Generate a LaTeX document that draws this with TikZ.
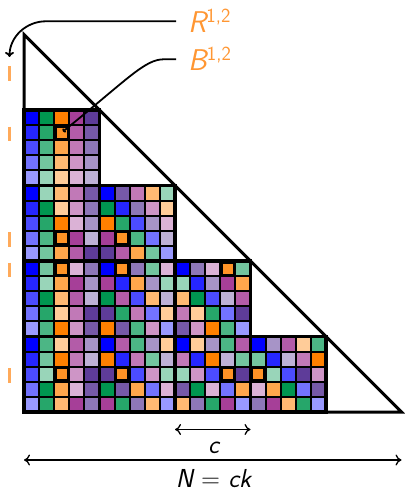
\documentclass[tikz,border=0pt]{standalone}
\usepackage{fontspec}
\usetikzlibrary{arrows.meta}
\definecolor{fam0}{RGB}{0,0,255}
\definecolor{fam1}{RGB}{0,150,80}
\definecolor{fam2}{RGB}{255,128,0}
\definecolor{fam3}{RGB}{166,63,152}
\definecolor{fam4}{RGB}{94,60,153}
\definecolor{labcol}{RGB}{255,150,50}
\definecolor{tickcol}{RGB}{255,170,90}
\begin{document}
\begin{tikzpicture}[x=1pt,y=-1pt,
  outline/.style={line width=3pt,line join=miter},
  blockline/.style={line width=3.2pt},
  tickmark/.style={draw=tickcol,line width=2.5pt},
  biglab/.style={text=labcol,anchor=base west,inner sep=0pt,font=\sffamily\fontsize{30}{36}\selectfont},
  botlab/.style={anchor=base,inner sep=0pt,font=\sffamily\fontsize{26}{30}\selectfont},
  pointer/.style={line width=1.8pt},
  dimarrow/.style={line width=1.3pt,{To[length=6pt,width=11pt]}-{To[length=6pt,width=11pt]}}]
\useasboundingbox (0,0) rectangle (404,492);
\def\s{15.1}
\def\ox{24}
\def\oy{34.5}
% cells
\foreach \I in {1,...,4}{
  \pgfmathtruncatemacro\Jmax{\I-1}
  \foreach \J in {0,...,\Jmax}{
    \foreach \i in {0,...,4}{
      \foreach \j in {0,...,4}{
        \pgfmathtruncatemacro\d{\I-\J}
        \pgfmathtruncatemacro\inv{(\d==1)*1+(\d==2)*3+(\d==3)*2+(\d==4)*4}
        \ifnum\J=0
          \pgfmathtruncatemacro\xx{\j}
          \pgfmathtruncatemacro\yy{\i-(\I-1)*\j}
        \else
          \pgfmathtruncatemacro\xx{(\i-\j)*\inv}
          \pgfmathtruncatemacro\yy{\j-(\J-1)*\xx}
        \fi
        \pgfmathtruncatemacro\fam{mod(\xx+100,5)}
        \pgfmathtruncatemacro\sh{mod(\yy+100,5)}
        \pgfmathtruncatemacro\pct{100-15*\sh}
        \pgfmathsetmacro\cx{\ox+(5*\J+\j)*\s}
        \pgfmathsetmacro\cy{\oy+(5*\I+\i)*\s}
        \fill[fam\fam!\pct!white,draw=black,line width=2pt] (\cx,\cy) rectangle ++(\s,\s);
        \ifnum\fam=2 \ifnum\sh=1
          \draw[line width=2.6pt] (\cx+1.3,\cy+1.3) rectangle ++(\s-2.6,\s-2.6);
        \fi\fi
      }
    }
    \pgfmathsetmacro\bx{\ox+5*\J*\s}
    \pgfmathsetmacro\by{\oy+5*\I*\s}
    \draw[blockline] (\bx,\by) rectangle ++(5*\s,5*\s);
  }
}
% outlines
\draw[outline] (24,34.5) -- (24,412) -- (401.5,412) -- cycle;
\draw[outline] (24,110) -| (99.5,185.5) -| (175,261) -| (250.5,336.5) -| (326,412);
% ticks
\foreach \r in {2,6,13,15,22}
  \draw[tickmark] (9.5,{\oy+\r*\s+1.5}) -- (9.5,{\oy+(\r+1)*\s+1});
% labels and pointers
\node[biglab] (R) at (188,33) {\itshape R\raisebox{10pt}{\fontsize{20}{24}\selectfont\upshape 1,2}};
\node[biglab] (B) at (188,71) {\itshape B\raisebox{10pt}{\fontsize{20}{24}\selectfont\upshape 1,2}};
\coordinate (tipR) at (9.5,57);
\coordinate (cellB) at (63,131.5);
\draw[pointer,-{To[length=5pt,width=9pt]}] ([xshift=-12pt]R.west) -- ++(-130,0) to[out=180,in=90] (tipR);
\draw[pointer,-{To[length=2.5pt,width=5pt]}] ([xshift=-12pt]B.west) -- ++(-12,0) .. controls +(-19,0) and +(66,-53.5) .. (cellB);
% dimensions
\coordinate (c0) at (175,429.5);
\coordinate (c1) at (250.5,429.5);
\coordinate (n0) at (24,460);
\coordinate (n1) at (401.5,460);
\draw[dimarrow] (c0) -- (c1);
\draw[dimarrow] (n0) -- (n1);
\node[botlab] (clab) at (213.5,453) {\itshape c};
\node[botlab] (nlab) at (213.5,487) {\itshape N \upshape= \itshape ck};
\end{tikzpicture}
\end{document}
